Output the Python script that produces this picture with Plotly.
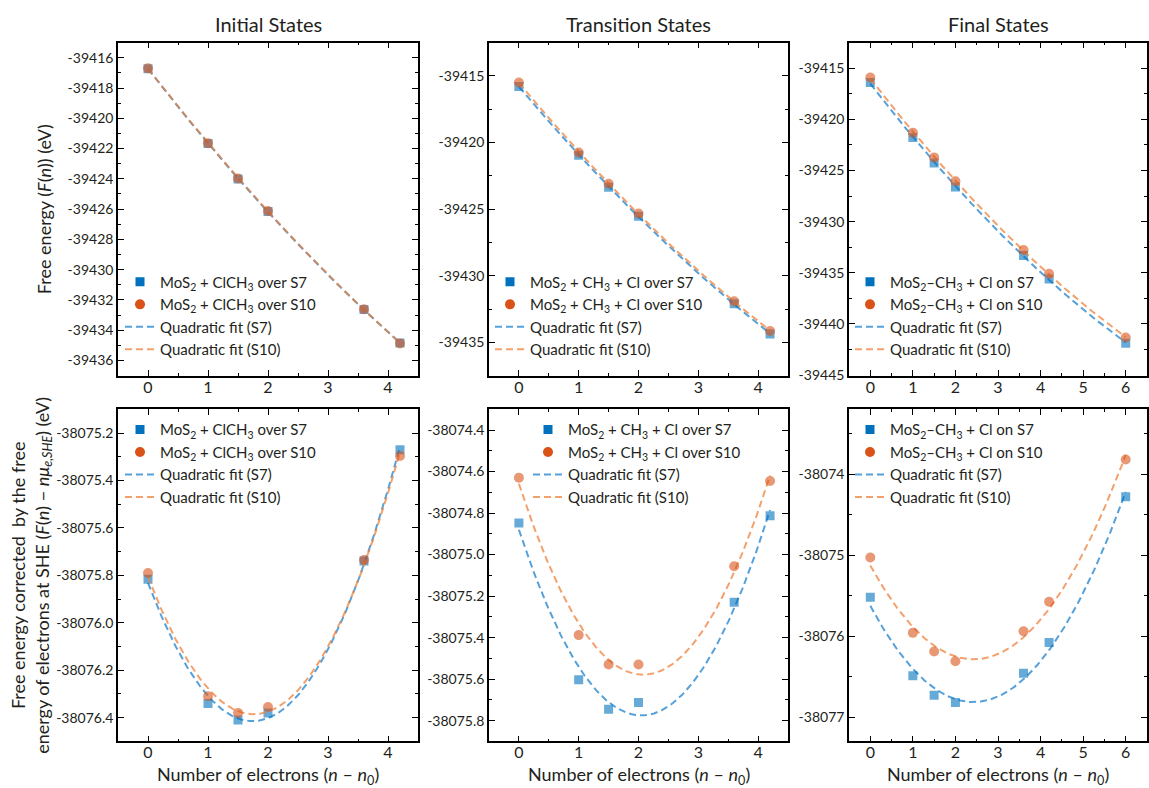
import numpy as np
import plotly.graph_objects as go

FONT = "Lato"
W, H = 1149, 788

# Number of electrons added, (n - n0)
n_is = [0, 1, 1.5, 2, 3.6, 4.2]
n_ts = [0, 1, 1.5, 2, 3.6, 4.2]
n_fs = [0, 1, 1.5, 2, 3.6, 4.2, 6]

# Free energy F(n) in eV
F_is_s7 = [-39416.72, -39421.67, -39424.01, -39426.15, -39432.63, -39434.85]
F_is_s10 = [-39416.70, -39421.64, -39423.98, -39426.12, -39432.62, -39434.87]
F_ts_s7 = [-39415.79, -39420.95, -39423.35, -39425.53, -39432.10, -39434.38]
F_ts_s10 = [-39415.50, -39420.75, -39423.10, -39425.33, -39431.92, -39434.15]
F_fs_s7 = [-39416.40, -39421.78, -39424.27, -39426.60, -39433.30, -39435.60, -39441.88]
F_fs_s10 = [-39415.91, -39421.30, -39423.72, -39426.05, -39432.77, -39435.10, -39441.33]

# Free energy corrected by the electron free energy at SHE, F(n) - n*mu_e,SHE (eV)
G_is_s7 = [-38075.817, -38076.340, -38076.410, -38076.380, -38075.740, -38075.270]
G_is_s10 = [-38075.790, -38076.310, -38076.380, -38076.355, -38075.735, -38075.297]
G_ts_s7 = [-38074.848, -38075.603, -38075.745, -38075.713, -38075.230, -38074.813]
G_ts_s10 = [-38074.630, -38075.388, -38075.530, -38075.530, -38075.056, -38074.645]
G_fs_s7 = [-38075.52, -38076.49, -38076.73, -38076.82, -38076.46, -38076.08, -38074.28]
G_fs_s10 = [-38075.03, -38075.96, -38076.19, -38076.31, -38075.94, -38075.575, -38073.82]

# Column headings and series names
col_titles = ["Initial States", "Transition States", "Final States"]
names_is = ["MoS<sub>2</sub> + ClCH<sub>3</sub> over S7", "MoS<sub>2</sub> + ClCH<sub>3</sub> over S10"]
names_ts = ["MoS<sub>2</sub> + CH<sub>3</sub> + Cl over S7", "MoS<sub>2</sub> + CH<sub>3</sub> + Cl over S10"]
names_fs = ["MoS<sub>2</sub>\u2013CH<sub>3</sub> + Cl on S7", "MoS<sub>2</sub>\u2013CH<sub>3</sub> + Cl on S10"]
fit_names = ["Quadratic fit (S7)", "Quadratic fit (S10)"]

# Axis ticks
yt_is_top = [-39416, -39418, -39420, -39422, -39424, -39426, -39428, -39430, -39432, -39434, -39436]
yt_ts_top = [-39415, -39420, -39425, -39430, -39435]
yt_fs_top = [-39415, -39420, -39425, -39430, -39435, -39440, -39445]
yt_is_bot = [-38075.2, -38075.4, -38075.6, -38075.8, -38076.0, -38076.2, -38076.4]
yt_ts_bot = [-38074.4, -38074.6, -38074.8, -38075.0, -38075.2, -38075.4, -38075.6, -38075.8]
yt_fs_bot = [-38074, -38075, -38076, -38077]
xt_45 = [0, 1, 2, 3, 4]
xt_6 = [0, 1, 2, 3, 4, 5, 6]

BLUE = "rgb(0,114,189)"
ORANGE = "rgb(217,83,25)"
BLUE_PT = "rgba(0,114,189,0.6)"
ORANGE_PT = "rgba(217,83,25,0.6)"
BLUE_LN = "rgba(30,130,205,0.75)"
ORANGE_LN = "rgba(238,130,60,0.75)"
TEXT = "#231f20"

# Panel frames in pixels: (left, right) per column, (top, bottom) per row
cols_px = [(118, 418), (489, 788), (849, 1147)]
rows_px = [(43, 379), (413, 748)]

panels = [
    # row, col, x, s7, s10, names, yticks, yrange, decimals, minor y step, xticks, xrange
    (0, 0, n_is, F_is_s7, F_is_s10, names_is, yt_is_top, [-39437, -39415], 0, 1, xt_45, [-0.5, 4.5]),
    (0, 1, n_ts, F_ts_s7, F_ts_s10, names_ts, yt_ts_top, [-39437.5, -39412.5], 0, 2.5, xt_45, [-0.5, 4.5]),
    (0, 2, n_fs, F_fs_s7, F_fs_s10, names_fs, yt_fs_top, [-39445.05, -39412.5], 0, 2.5, xt_6, [-0.5, 6.5]),
    (1, 0, n_is, G_is_s7, G_is_s10, names_is, yt_is_bot, [-38076.5, -38075.1], 1, 0.1, xt_45, [-0.5, 4.5]),
    (1, 1, n_ts, G_ts_s7, G_ts_s10, names_ts, yt_ts_bot, [-38075.9, -38074.3], 1, 0.1, xt_45, [-0.5, 4.5]),
    (1, 2, n_fs, G_fs_s7, G_fs_s10, names_fs, yt_fs_bot, [-38077.3, -38073.2], 0, 0.5, xt_6, [-0.5, 6.5]),
]

# Legend anchor (left px, top px) per panel
legend_px = [(120, 268), (490, 268), (850, 268), (120, 417), (528, 417), (850, 417)]

fig = go.Figure()
layout = {}

axis_common = dict(
    showline=True, linecolor="black", linewidth=1.6, mirror="allticks",
    ticks="inside", ticklen=6, tickwidth=1.4, tickcolor="black",
    showgrid=False, zeroline=False,
)
dash = "7px,4px"

for i, (r, c, x, s7, s10, names, yticks, yrange, ydec, ymin, xticks, xrange) in enumerate(panels):
    k = i + 1
    xa = "x" if k == 1 else f"x{k}"
    ya = "y" if k == 1 else f"y{k}"
    lg = "legend" if k == 1 else f"legend{k}"

    # legend entries in full colour
    fig.add_trace(go.Scatter(x=[None], y=[None], mode="markers", name=names[0],
                             marker=dict(symbol="square", size=9, color=BLUE),
                             xaxis=xa, yaxis=ya, legend=lg))
    fig.add_trace(go.Scatter(x=[None], y=[None], mode="markers", name=names[1],
                             marker=dict(symbol="circle", size=10, color=ORANGE),
                             xaxis=xa, yaxis=ya, legend=lg))
    fig.add_trace(go.Scatter(x=[None], y=[None], mode="lines", name=fit_names[0],
                             line=dict(color=BLUE_LN, width=2, dash=dash),
                             xaxis=xa, yaxis=ya, legend=lg))
    fig.add_trace(go.Scatter(x=[None], y=[None], mode="lines", name=fit_names[1],
                             line=dict(color=ORANGE_LN, width=2, dash=dash),
                             xaxis=xa, yaxis=ya, legend=lg))

    # quadratic fits through the computed points
    xx = np.linspace(0, max(x), 200)
    p7 = np.polyfit(x, s7, 2)
    p10 = np.polyfit(x, s10, 2)
    fig.add_trace(go.Scatter(x=xx, y=np.polyval(p7, xx), mode="lines", showlegend=False,
                             line=dict(color=BLUE_LN, width=2, dash=dash),
                             xaxis=xa, yaxis=ya, hoverinfo="skip"))
    fig.add_trace(go.Scatter(x=x, y=s7, mode="markers", showlegend=False,
                             marker=dict(symbol="square", size=9, color=BLUE_PT),
                             xaxis=xa, yaxis=ya))
    fig.add_trace(go.Scatter(x=xx, y=np.polyval(p10, xx), mode="lines", showlegend=False,
                             line=dict(color=ORANGE_LN, width=2, dash=dash),
                             xaxis=xa, yaxis=ya, hoverinfo="skip"))
    fig.add_trace(go.Scatter(x=x, y=s10, mode="markers", showlegend=False,
                             marker=dict(symbol="circle", size=10, color=ORANGE_PT),
                             xaxis=xa, yaxis=ya))

    l, rr = cols_px[c]
    t, b = rows_px[r]
    xkey = "xaxis" if k == 1 else f"xaxis{k}"
    ykey = "yaxis" if k == 1 else f"yaxis{k}"
    layout[xkey] = dict(
        axis_common, domain=[l / W, rr / W], anchor=ya,
        range=xrange, tickmode="array", tickvals=xticks, ticktext=[str(v) for v in xticks],
        tickfont=dict(family=FONT, size=16, color=TEXT), ticklabelstandoff=-4,
        minor=dict(ticks="inside", ticklen=3, tickwidth=1.2, tickcolor="black",
                   tickmode="linear", tick0=0, dtick=0.5),
    )
    fmt = "{:.1f}" if ydec else "{:.0f}"
    layout[ykey] = dict(
        axis_common, domain=[1 - b / H, 1 - t / H], anchor=xa,
        range=yrange, tickmode="array", tickvals=yticks,
        ticktext=[fmt.format(v) for v in yticks],
        tickfont=dict(family=FONT, size=14, color=TEXT),
        minor=dict(ticks="inside", ticklen=3, tickwidth=1.2, tickcolor="black",
                   tickmode="linear", tick0=yticks[0], dtick=ymin),
    )
    lx, ly = legend_px[i]
    layout[lg] = dict(
        x=lx / W, y=1 - ly / H, xanchor="left", yanchor="top",
        bgcolor="rgba(0,0,0,0)", borderwidth=0,
        font=dict(family=FONT, size=15, color=TEXT),
        itemclick=False, tracegroupgap=0,
    )

annotations = []
for c, title in enumerate(col_titles):
    l, rr = cols_px[c]
    annotations.append(dict(text=title, x=(l + rr) / 2 / W, y=1 - 24 / H, xref="paper", yref="paper",
                            showarrow=False, font=dict(family=FONT, size=20, color=TEXT),
                            xanchor="center", yanchor="middle"))
    annotations.append(dict(text="Number of electrons (<i>n</i> \u2013 <i>n</i><sub>0</sub>)",
                            x=(l + rr) / 2 / W, y=1 - 782 / H, xref="paper", yref="paper",
                            showarrow=False, font=dict(family=FONT, size=18, color=TEXT),
                            xanchor="center", yanchor="middle"))

annotations.append(dict(text="Free energy (<i>F</i>(<i>n</i>)) (eV)", x=44 / W, y=1 - 211 / H,
                        xref="paper", yref="paper", showarrow=False, textangle=-90,
                        font=dict(family=FONT, size=18, color=TEXT),
                        xanchor="center", yanchor="middle"))
annotations.append(dict(text="Free energy corrected  by the free<br>energy of electrons at SHE "
                             "(<i>F</i>(<i>n</i>) \u2212 <i>n\u03bc</i><sub><i>e,SHE</i></sub>) (eV)",
                        x=31 / W, y=1 - 581 / H,
                        xref="paper", yref="paper", showarrow=False, textangle=-90,
                        font=dict(family=FONT, size=18, color=TEXT),
                        xanchor="center", yanchor="middle"))

fig.update_layout(
    width=W, height=H, autosize=False,
    margin=dict(l=0, r=0, t=0, b=0),
    paper_bgcolor="white", plot_bgcolor="white",
    showlegend=True, annotations=annotations,
    font=dict(family=FONT, color=TEXT),
    **layout,
)

fig.write_html("out.html")
